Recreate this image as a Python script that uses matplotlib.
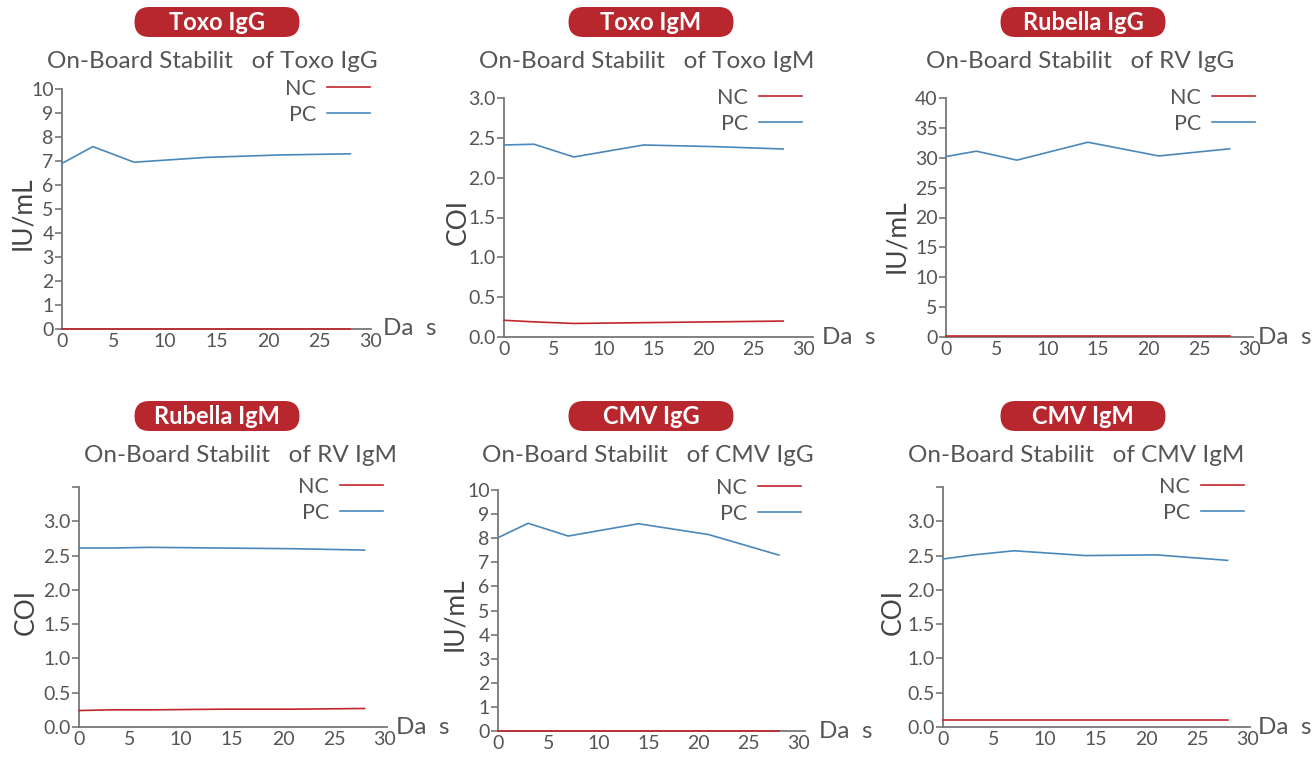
import matplotlib
matplotlib.use("Agg")
import matplotlib.pyplot as plt
from matplotlib.patches import FancyBboxPatch

plt.rcParams['font.family'] = ['Lato', 'DejaVu Sans']

W, H = 1316, 760

days = [0, 3, 7, 14, 21, 28]

badges = ["Toxo IgG", "Toxo IgM", "Rubella IgG", "Rubella IgM", "CMV IgG", "CMV IgM"]
titles = ["On-Board Stabilit   of Toxo IgG", "On-Board Stabilit   of Toxo IgM",
          "On-Board Stabilit   of RV IgG", "On-Board Stabilit   of RV IgM",
          "On-Board Stabilit   of CMV IgG", "On-Board Stabilit   of CMV IgM"]
units = ["IU/mL", "COI", "IU/mL", "COI", "IU/mL", "COI"]

toxo_igg_nc = [0.0, 0.0, 0.0, 0.0, 0.0, 0.0]
toxo_igg_pc = [6.9, 7.6, 6.95, 7.15, 7.25, 7.3]
toxo_igm_nc = [0.21, 0.19, 0.17, 0.18, 0.19, 0.20]
toxo_igm_pc = [2.41, 2.42, 2.26, 2.41, 2.39, 2.36]
rv_igg_nc = [0.2, 0.2, 0.2, 0.2, 0.2, 0.2]
rv_igg_pc = [30.2, 31.1, 29.6, 32.6, 30.3, 31.5]
rv_igm_nc = [0.24, 0.25, 0.25, 0.26, 0.26, 0.27]
rv_igm_pc = [2.61, 2.61, 2.62, 2.61, 2.60, 2.58]
cmv_igg_nc = [0.0, 0.0, 0.0, 0.0, 0.0, 0.0]
cmv_igg_pc = [8.02, 8.62, 8.09, 8.6, 8.15, 7.3]
cmv_igm_nc = [0.1, 0.1, 0.1, 0.1, 0.1, 0.1]
cmv_igm_pc = [2.45, 2.51, 2.57, 2.50, 2.51, 2.43]

nc_all = [toxo_igg_nc, toxo_igm_nc, rv_igg_nc, rv_igm_nc, cmv_igg_nc, cmv_igm_nc]
pc_all = [toxo_igg_pc, toxo_igm_pc, rv_igg_pc, rv_igm_pc, cmv_igg_pc, cmv_igm_pc]

# layout in pixels: left, right, top, bottom of axes
boxes = [(62, 371, 89, 329), (504, 813, 98, 337), (946, 1253, 98, 337),
         (79, 387, 487, 727), (498, 805, 490, 731), (943, 1250, 487, 727)]
xmax = [30, 31.0, 30.3, 30.2, 30.6, 30.2]
yticks = [list(range(0, 11)), [0, 0.5, 1, 1.5, 2, 2.5, 3], list(range(0, 41, 5)),
          [0, 0.5, 1, 1.5, 2, 2.5, 3, 3.5], list(range(0, 11)),
          [0, 0.5, 1, 1.5, 2, 2.5, 3, 3.5]]
badge_pos = [(217, 22), (651, 22), (1083, 22), (217, 416), (651, 416), (1083, 416)]
title_pos = [(212, 62), (647, 62), (1080, 62), (241, 455), (648, 455), (1076, 455)]
ylab_pos = [(23, 213), (458, 222), (897, 236), (26, 612), (455, 614), (893, 612)]
leg_pos = [(370, 89), (802, 98), (1255, 98), (383, 487), (801, 488), (1244, 487)]
days_gap = [12, 9, 5, 9, 14, 8]

RED = "#c1272d"
BLUE = "#4a88bb"
GRAY = "#555555"

fig = plt.figure(figsize=(W / 100, H / 100), dpi=100)

for i in range(6):
    l, r, t, b = boxes[i]
    ax = fig.add_axes([l / W, 1 - b / H, (r - l) / W, (b - t) / H])
    ax.plot(days, nc_all[i], color=RED, lw=1.2, label="NC", clip_on=False, zorder=5)
    ax.plot(days, pc_all[i], color=BLUE, lw=1.2, label="PC", clip_on=False, zorder=5)
    ax.set_xlim(0, xmax[i])
    ax.set_ylim(0, yticks[i][-1])
    ax.set_xticks([0, 5, 10, 15, 20, 25, 30])
    ax.set_yticks(yticks[i])
    if isinstance(yticks[i][1], float):
        labs = ["%.1f" % v for v in yticks[i]]
        if yticks[i][-1] == 3.5:
            labs[-1] = ""
        ax.set_yticklabels(labs)
    for s in ["top", "right"]:
        ax.spines[s].set_visible(False)
    for s in ["left", "bottom"]:
        ax.spines[s].set_color("#777777")
        ax.spines[s].set_linewidth(1.3)
    ax.tick_params(axis="y", length=5, width=1.2, color="#777777", pad=1,
                   labelsize=14, labelcolor=GRAY)
    ax.tick_params(axis="x", length=0, pad=3, labelsize=14, labelcolor=GRAY)
    ax.annotate("Da  s", xy=(1, 0), xycoords="axes fraction", xytext=(days_gap[i] * 0.72, 0),
                textcoords="offset points", va="center", ha="left",
                fontsize=17.5, color=GRAY)

    leg = ax.legend(loc="upper right", bbox_to_anchor=(leg_pos[i][0] / W, 1 - (leg_pos[i][1] - 10) / H),
                    bbox_transform=fig.transFigure, frameon=False, markerfirst=False,
                    fontsize=15.5, handlelength=2.0, handletextpad=0.5, labelspacing=0.28,
                    borderpad=0, borderaxespad=0)
    for txt in leg.get_texts():
        txt.set_color(GRAY)

    # red badge
    bx, by = badge_pos[i]
    bw, bh = 165, 30
    patch = FancyBboxPatch(((bx - bw / 2) / 100, (H - by - bh / 2) / 100), bw / 100, bh / 100,
                           boxstyle="round,pad=0,rounding_size=0.15",
                           transform=fig.dpi_scale_trans, facecolor="#b8262e",
                           edgecolor="none")
    fig.patches.append(patch)
    fig.text(bx / W, 1 - by / H, badges[i], ha="center", va="center", color="white",
             fontsize=17, fontweight="bold")

    tx, ty = title_pos[i]
    fig.text(tx / W, 1 - ty / H, titles[i], ha="center", va="center", color=GRAY,
             fontsize=17.5)

    yx, yy = ylab_pos[i]
    fig.text(yx / W, 1 - yy / H, units[i], ha="center", va="center", color="#444444",
             fontsize=19, rotation=90)

fig.savefig("out.png", dpi=100)
